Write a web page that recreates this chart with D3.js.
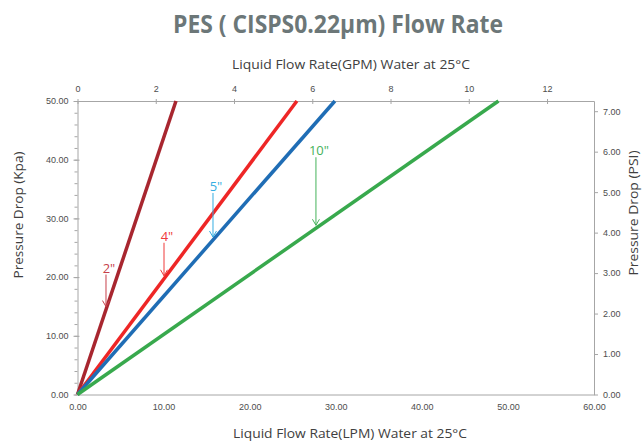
<!DOCTYPE html>
<html>
<head>
<meta charset="utf-8">
<script src="https://cdn.jsdelivr.net/npm/d3@7"></script>
<style>
  body { margin: 0; background: #fff; }
  svg { font-family: "Open Sans", "Noto Sans", sans-serif; }
  .tick text { fill: #4d4d4d; font-size: 9px; }
  .domain { stroke: #a6a6a6; }
  .tick line { stroke: #a6a6a6; }
</style>
</head>
<body>
<div id="chart"></div>
<script>
// --- data ---
const lpmTicks = [0, 10, 20, 30, 40, 50, 60];
const gpmTicks = [0, 2, 4, 6, 8, 10, 12];
const kpaTicks = [0, 10, 20, 30, 40, 50];
const psiTicks = [0, 1, 2, 3, 4, 5, 6, 7];
const sizes = ['2"', '4"', '5"', '10"'];
const flowAtTop = [11.44, 25.49, 29.9, 48.9];   // LPM reached at 50 kPa
const pressureEnds = [0, 50];                   // kPa at start / end of each line
const arrowAtFlow = [3.31, 10.05, 15.74, 27.7]; // LPM where each label arrow points

const lineColors = ['#a8262f', '#ee2626', '#1f6db5', '#38a94d'];
const labelColors = ['#c7414b', '#ef3b3b', '#35aee2', '#45b25a'];
const arrowLen = [32, 33, 44, 68];

const width = 643, height = 443;
const margin = { top: 101, right: 49, bottom: 48.5, left: 77.5 };
const w = width - margin.left - margin.right;
const h = height - margin.top - margin.bottom;

const svg = d3.select('#chart').append('svg')
  .attr('width', width)
  .attr('height', height);

const chart = svg.append('g')
  .attr('transform', `translate(${margin.left},${margin.top})`);

const x = d3.scaleLinear().domain([0, 60]).range([0, w]);
const xGpm = d3.scaleLinear().domain([0, 13.2]).range([0, w]);
const y = d3.scaleLinear().domain([0, 50]).range([h, 0]);
const yPsi = d3.scaleLinear().domain([0, 50 * 0.145038]).range([h, 0]);

// minor ticks on the left axis
chart.append('g')
  .attr('class', 'minor')
  .call(d3.axisLeft(y).tickValues(d3.range(0, 51, 2)).tickSize(3).tickFormat(''))
  .call(g => g.select('.domain').remove());

// axes
chart.append('g')
  .attr('transform', `translate(0,${h})`)
  .call(d3.axisBottom(x).tickValues(lpmTicks).tickSize(0).tickPadding(9).tickFormat(d3.format('.2f')));

chart.append('g')
  .call(d3.axisTop(xGpm).tickValues(gpmTicks).tickSize(3).tickSizeOuter(0).tickPadding(6).tickFormat(d3.format('d')))
  .call(g => g.selectAll('.tick line').attr('y2', 3).attr('y1', -2));

chart.append('g')
  .call(d3.axisLeft(y).tickValues(kpaTicks).tickSize(4).tickSizeOuter(0).tickPadding(5).tickFormat(d3.format('.2f')))
  .call(g => g.selectAll('.tick line').attr('x2', 2).attr('x1', -4));

chart.append('g')
  .attr('transform', `translate(${w},0)`)
  .call(d3.axisRight(yPsi).tickValues(psiTicks).tickSize(4).tickSizeOuter(0).tickPadding(5).tickFormat(d3.format('.2f')));

// series lines
const line = d3.line().x(d => x(d[0])).y(d => y(d[1]));
sizes.forEach((s, i) => {
  const pts = pressureEnds.map(p => [flowAtTop[i] * p / 50, p]);
  chart.append('path')
    .datum(pts)
    .attr('fill', 'none')
    .attr('stroke', lineColors[i])
    .attr('stroke-width', 3.5)
    .attr('d', line);
});

// labels with arrows
sizes.forEach((s, i) => {
  const ax = x(arrowAtFlow[i]);
  const ay = y(arrowAtFlow[i] / flowAtTop[i] * 50) - 3;
  const top = ay - arrowLen[i];
  const g = chart.append('g').attr('stroke', labelColors[i]).attr('fill', 'none').attr('stroke-width', 1);
  g.append('line').attr('x1', ax).attr('x2', ax).attr('y1', top).attr('y2', ay);
  g.append('path').attr('d', `M${ax - 3.5},${ay - 6}L${ax},${ay}L${ax + 3.5},${ay - 6}`);
  chart.append('text')
    .attr('x', ax + 3)
    .attr('y', top - 2)
    .attr('text-anchor', 'middle')
    .attr('fill', labelColors[i])
    .attr('font-size', 13)
    .text(s);
});

// titles
svg.append('text')
  .attr('x', 338).attr('y', 33)
  .attr('text-anchor', 'middle')
  .attr('font-size', 25).attr('font-weight', 'bold')
  .attr('fill', '#6c7778')
  .attr('textLength', 330).attr('lengthAdjust', 'spacingAndGlyphs')
  .text('PES ( CISPS0.22µm) Flow Rate');

svg.append('text')
  .attr('x', 351).attr('y', 69)
  .attr('text-anchor', 'middle')
  .attr('font-size', 13).attr('fill', '#404040')
  .attr('textLength', 238).attr('lengthAdjust', 'spacingAndGlyphs')
  .text('Liquid Flow Rate(GPM) Water at 25°C');

svg.append('text')
  .attr('x', 350).attr('y', 438)
  .attr('text-anchor', 'middle')
  .attr('font-size', 13).attr('fill', '#404040')
  .attr('textLength', 234).attr('lengthAdjust', 'spacingAndGlyphs')
  .text('Liquid Flow Rate(LPM) Water at 25°C');

svg.append('text')
  .attr('transform', 'translate(23,215) rotate(-90)')
  .attr('text-anchor', 'middle')
  .attr('font-size', 13).attr('fill', '#404040')
  .attr('textLength', 127).attr('lengthAdjust', 'spacingAndGlyphs')
  .text('Pressure Drop (Kpa)');

svg.append('text')
  .attr('transform', 'translate(638,213) rotate(-90)')
  .attr('text-anchor', 'middle')
  .attr('font-size', 13).attr('fill', '#404040')
  .attr('textLength', 125).attr('lengthAdjust', 'spacingAndGlyphs')
  .text('Pressure Drop (PSI)');
</script>
</body>
</html>
